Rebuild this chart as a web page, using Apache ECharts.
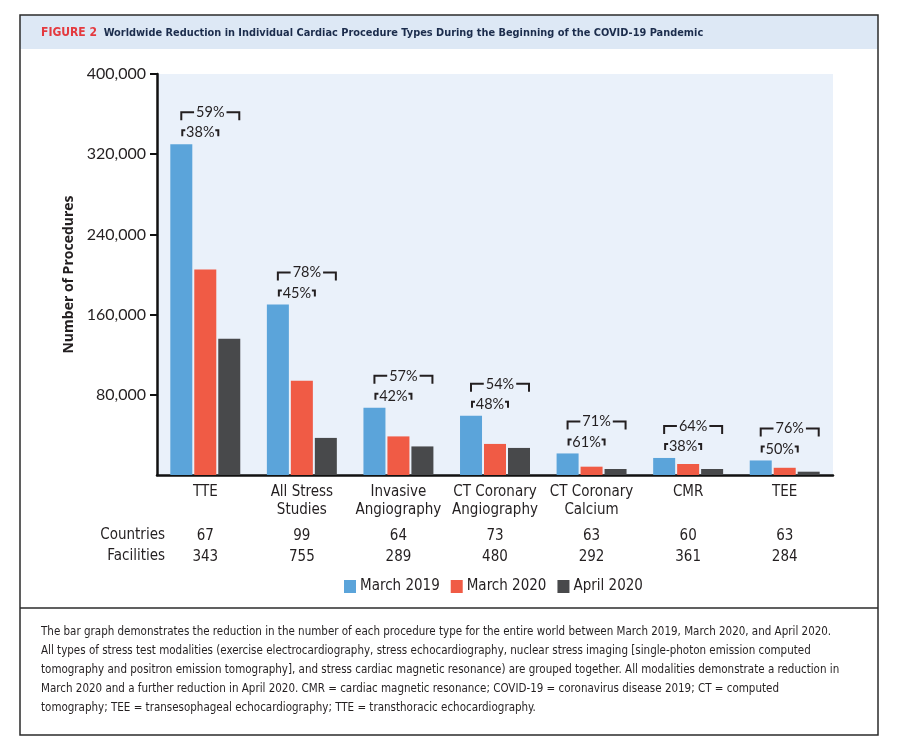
<!DOCTYPE html>
<html><head><meta charset="utf-8">
<script src="https://cdn.jsdelivr.net/npm/echarts@6/dist/echarts.min.js"></script>
<style>html,body{margin:0;padding:0;background:#fff}#c{width:898px;height:745px}</style>
</head><body><div id="c"></div>
<script>
const categories = ['TTE', 'All Stress\nStudies', 'Invasive\nAngiography', 'CT Coronary\nAngiography', 'CT Coronary\nCalcium', 'CMR', 'TEE'];
const march2019 = [330000, 170000, 67000, 59000, 21500, 17000, 14500];
const march2020 = [205000, 94000, 38500, 31000, 8300, 11000, 7200];
const april2020 = [136000, 37000, 28500, 27000, 6000, 6000, 3300];
const reductionMarch2020 = [38, 45, 42, 48, 61, 38, 50];
const reductionApril2020 = [59, 78, 57, 54, 71, 64, 76];
const countries = [67, 99, 64, 73, 63, 60, 63];
const facilities = [343, 755, 289, 480, 292, 361, 284];
const seriesNames = ['March 2019', 'March 2020', 'April 2020'];
const yMin = 0, yMax = 400000, yStep = 80000;
const captionLines = [
  'The bar graph demonstrates the reduction in the number of each procedure type for the entire world between March 2019, March 2020, and April 2020.',
  'All types of stress test modalities (exercise electrocardiography, stress echocardiography, nuclear stress imaging [single-photon emission computed',
  'tomography and positron emission tomography], and stress cardiac magnetic resonance) are grouped together. All modalities demonstrate a reduction in',
  'March 2020 and a further reduction in April 2020. CMR = cardiac magnetic resonance; COVID-19 = coronavirus disease 2019; CT = computed',
  'tomography; TEE = transesophageal echocardiography; TTE = transthoracic echocardiography.'
];

const COND = "'Liberation Sans Narrow','DejaVu Sans Condensed',sans-serif";
const REG = "Lato,'Open Sans',sans-serif";
const colors = ['#5ba4da', '#f05b45', '#48494b'];
const PLOT_BG = '#eaf1fa';
const INK = '#231f20';

const chart = echarts.init(document.getElementById('c'), null, {renderer: 'canvas'});

const bracketData = categories.map((c, i) => [i, march2019[i], reductionMarch2020[i], reductionApril2020[i]]);

function renderBracket(params, api) {
  const i = api.value(0);
  const p = api.coord([i, api.value(1)]);
  const cx = p[0], top = p[1];
  const ls = {stroke: INK, lineWidth: 2, fill: null};
  const oy = top - 32, iy = top - 14;
  const ox1 = cx - 24, ox2 = cx + 34;
  const ix1 = cx - 23, ix2 = cx + 13;
  return {
    type: 'group',
    children: [
      {type: 'polyline', shape: {points: [[ox1, oy + 8], [ox1, oy], [ox2, oy], [ox2, oy + 8]]}, style: ls},
      {type: 'text', style: {text: api.value(3) + '%', x: (ox1 + ox2) / 2, y: oy, align: 'center', verticalAlign: 'middle',
        font: '14.5px ' + REG, fill: INK, backgroundColor: PLOT_BG, padding: [0, 2]}},
      {type: 'polyline', shape: {points: [[ix1 + 3, iy], [ix1, iy], [ix1, iy + 6]]}, style: ls},
      {type: 'polyline', shape: {points: [[ix2 - 3, iy], [ix2, iy], [ix2, iy + 6]]}, style: ls},
      {type: 'text', style: {text: api.value(2) + '%', x: (ix1 + ix2) / 2, y: iy + 2.5, align: 'center', verticalAlign: 'middle',
        font: '14.5px ' + REG, fill: INK}}
    ]
  };
}

const graphics = [
  {type: 'rect', shape: {x: 20, y: 15, width: 858, height: 34}, style: {fill: '#dde8f5'}, z: 0},
  {type: 'rect', shape: {x: 20, y: 15, width: 858, height: 720}, style: {fill: null, stroke: '#2b2b2b', lineWidth: 1.5}, z: 1},
  {type: 'line', shape: {x1: 20, y1: 608, x2: 878, y2: 608}, style: {stroke: '#2b2b2b', lineWidth: 1.5}},
  {type: 'text', x: 41, y: 33, style: {
    text: '{a|FIGURE 2}  {b|Worldwide Reduction in Individual Cardiac Procedure Types During the Beginning of the COVID-19 Pandemic}',
    verticalAlign: 'middle',
    rich: {
      a: {font: 'bold 12px ' + COND, fill: '#e43a3f'},
      b: {font: 'bold 10.9px ' + COND, fill: '#1b2c4c'}
    }
  }},
  {type: 'text', x: 165, y: 535, style: {text: 'Countries', align: 'right', verticalAlign: 'middle', font: '15px ' + COND, fill: INK}},
  {type: 'text', x: 165, y: 556, style: {text: 'Facilities', align: 'right', verticalAlign: 'middle', font: '15px ' + COND, fill: INK}}
];
captionLines.forEach((t, k) => {
  graphics.push({type: 'text', x: 41, y: 632 + k * 19, style: {text: t, verticalAlign: 'middle', font: '11.5px ' + COND, fill: INK}});
});

const option = {
  backgroundColor: '#fff',
  animation: false,
  grid: {left: 157, right: 65, top: 74, bottom: 270, show: true, backgroundColor: PLOT_BG, borderWidth: 0},
  legend: {
    data: seriesNames, left: 339, top: 574, itemWidth: 12, itemHeight: 13, itemGap: 11, icon: 'rect',
    textStyle: {fontFamily: COND, fontSize: 15, color: INK, padding: [0, 0, 0, -1]}
  },
  xAxis: [
    {type: 'category', data: categories, gridIndex: 0,
      axisLine: {lineStyle: {color: '#111', width: 2.5}}, axisTick: {show: false},
      axisLabel: {margin: 8, fontFamily: COND, fontSize: 15, color: INK, lineHeight: 18, interval: 0}},
    {type: 'category', data: categories, gridIndex: 0, position: 'bottom',
      axisLine: {show: false}, axisTick: {show: false},
      axisLabel: {margin: 51, interval: 0, fontFamily: COND, fontSize: 15, color: INK, lineHeight: 21,
        formatter: (v, i) => countries[i] + '\n' + facilities[i]}}
  ],
  yAxis: {
    type: 'value', min: yMin, max: yMax, interval: yStep,
    name: 'Number of Procedures', nameLocation: 'middle', nameGap: 75,
    nameTextStyle: {fontFamily: "'Open Sans',sans-serif", fontWeight: 'bold', fontSize: 14, color: INK},
    axisLine: {show: true, lineStyle: {color: '#111', width: 2.5}},
    axisTick: {show: true, length: 7, lineStyle: {color: '#111', width: 2}},
    splitLine: {show: false},
    axisLabel: {margin: 11, fontFamily: REG, fontSize: 16, color: INK, showMinLabel: false,
      formatter: v => v.toLocaleString('en-US')}
  },
  series: [
    {name: seriesNames[0], type: 'bar', data: march2019, barWidth: 22, barGap: '9%', itemStyle: {color: colors[0]}},
    {name: seriesNames[1], type: 'bar', data: march2020, barWidth: 22, barGap: '9%', itemStyle: {color: colors[1]}},
    {name: seriesNames[2], type: 'bar', data: april2020, barWidth: 22, barGap: '9%', itemStyle: {color: colors[2]}},
    {name: 'brackets', type: 'custom', data: bracketData, encode: {x: 0, y: 1}, renderItem: renderBracket, silent: true, z: 5}
  ],
  graphic: graphics
};
chart.setOption(option);
</script>
</body></html>
